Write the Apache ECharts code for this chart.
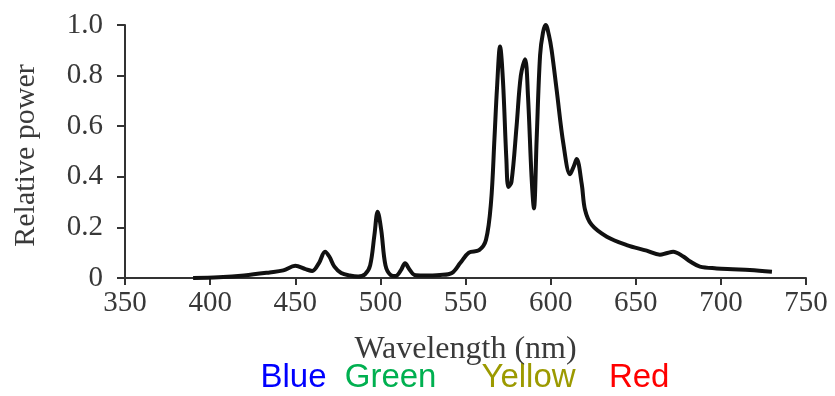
<!DOCTYPE html>
<html>
<head>
<meta charset="utf-8">
<script src="https://cdn.jsdelivr.net/npm/echarts@6/dist/echarts.min.js"></script>
<style>
  html, body { margin: 0; padding: 0; background: #fff; }
  #main { width: 835px; height: 396px; }
</style>
</head>
<body>
<div id="main"></div>
<script>
// spectrum
var wavelength = [390,405,420,435,443,450,456,460,464,467.5,470,473,477,482,487,491,494,496.5,498.4,500.5,503,506,509,512,514.5,517,520,525,535,542,547,552,558,562,565,567,568.5,570.3,572,574,575.2,577,580,582.5,585,586.7,588.8,590.2,591.8,593.8,595.5,597.1,599,600.6,603.6,607.5,611.4,613.5,615.3,618.3,620.2,624.1,633,644.7,656.4,664.2,668,672,677.9,682,687.7,697.5,707,717,730];
var power = [0,0.003,0.01,0.022,0.03,0.048,0.035,0.028,0.06,0.104,0.085,0.045,0.02,0.01,0.006,0.015,0.05,0.17,0.262,0.19,0.05,0.012,0.008,0.03,0.058,0.035,0.012,0.01,0.012,0.02,0.06,0.1,0.11,0.15,0.3,0.55,0.75,0.915,0.78,0.47,0.36,0.38,0.6,0.8,0.865,0.72,0.4,0.275,0.55,0.88,0.97,1.0,0.96,0.9,0.74,0.53,0.41,0.44,0.47,0.37,0.27,0.21,0.163,0.13,0.108,0.092,0.098,0.104,0.085,0.065,0.045,0.038,0.035,0.032,0.025];

// colour bands written under the axis
var bandNames = ['Blue', 'Green', 'Yellow', 'Red'];
var bandCenters = [449, 506, 587, 652];
var bandColors = ['#0000ff', '#00b050', '#9c9a00', '#ff0000'];

var pts = [];
for (var i = 0; i < wavelength.length; i++) {
  pts.push([wavelength[i], power[i]]);
}

var chart = echarts.init(document.getElementById('main'));
var serif = 'Liberation Serif';
var option = {
  backgroundColor: '#fff',
  animation: false,
  grid: { left: 125, right: 29, top: 25, bottom: 118 },
  xAxis: {
    type: 'value',
    min: 350, max: 750, interval: 50,
    name: 'Wavelength (nm)',
    nameLocation: 'middle',
    nameGap: 56,
    nameTextStyle: { fontFamily: serif, fontSize: 32, color: '#3a3a3a' },
    axisLine: { lineStyle: { color: '#333', width: 2 } },
    axisTick: { length: 7, lineStyle: { color: '#333', width: 2 } },
    axisLabel: { margin: 11, fontFamily: serif, fontSize: 29, color: '#383838' },
    splitLine: { show: false }
  },
  yAxis: {
    type: 'value',
    min: 0, max: 1, interval: 0.2,
    name: 'Relative power',
    nameLocation: 'middle',
    nameGap: 84,
    nameTextStyle: { fontFamily: serif, fontSize: 30, color: '#3a3a3a', padding: [0, 8, 0, 0] },
    axisLine: { show: true, lineStyle: { color: '#333', width: 2 } },
    axisTick: { show: true, length: 8, lineStyle: { color: '#333', width: 2 } },
    axisLabel: {
      margin: 22, fontFamily: serif, fontSize: 29, color: '#383838',
      formatter: function (v) { return v === 0 ? '0' : v.toFixed(1); }
    },
    splitLine: { show: false }
  },
  series: [{
    type: 'line',
    data: pts,
    smooth: 0.35,
    showSymbol: false,
    lineStyle: { color: '#111', width: 4 }
  }]
};
chart.setOption(option);

// band labels placed at their wavelength under the axis
var texts = [];
for (var j = 0; j < bandNames.length; j++) {
  var px = chart.convertToPixel({ xAxisIndex: 0 }, bandCenters[j]);
  texts.push({
    type: 'text',
    x: px, y: 378,
    style: {
      text: bandNames[j],
      fill: bandColors[j],
      font: '33px "Liberation Sans"',
      textAlign: 'center',
      textVerticalAlign: 'middle'
    }
  });
}
chart.setOption({ graphic: texts });
</script>
</body>
</html>
